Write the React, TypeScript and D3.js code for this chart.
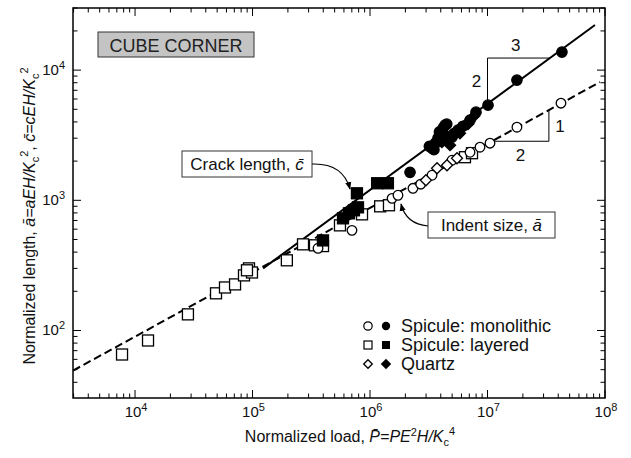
import React from 'react';
import * as d3 from 'd3';

const W = 631;
const H = 458;
const PLOT = { left: 73, right: 605, top: 8, bottom: 398 };

const xDomain = [2965, 1e8];
const yDomain = [30.3, 30000];

const xMajorTicks = [1e4, 1e5, 1e6, 1e7, 1e8];
const xTickExps = ['4', '5', '6', '7', '8'];
const yMajorTicks = [1e2, 1e3, 1e4];
const yTickExps = ['2', '3', '4'];

// Spicule monolithic – indent size (open circles)
const monoOpen: [number, number][] = [
  [3.61e5, 428], [7.02e5, 588], [1.54e6, 1035], [1.73e6, 1093], [2.32e6, 1236],
  [2.7e6, 1330], [3.37e6, 1557], [4.99e6, 2031], [7.1e6, 2339], [8.63e6, 2557],
  [1.05e7, 2746], [1.78e7, 3643], [4.22e7, 5572],
];
// Spicule monolithic – crack length (filled circles)
const monoFilled: [number, number][] = [
  [2.19e6, 1641], [3.2e6, 2600], [3.37e6, 2512], [3.5e6, 2450], [3.6e6, 2750],
  [3.79e6, 3000], [3.9e6, 3350], [4.0e6, 2850], [4.2e6, 3600], [4.35e6, 3776],
  [4.5e6, 3850], [4.4e6, 3100], [4.6e6, 2900], [4.99e6, 3053], [5.2e6, 3250],
  [5.61e6, 3456], [6.18e6, 3706], [7.1e6, 4125], [7.98e6, 4753], [1.01e7, 5380],
  [1.78e7, 8380], [4.3e7, 13770],
];
// Spicule layered – indent size (open squares)
const layOpen: [number, number][] = [
  [7.75e3, 65.4], [1.29e4, 83.8], [2.82e4, 133], [4.89e4, 193], [5.83e4, 214],
  [7.1e4, 226], [8.46e4, 265], [9.33e4, 300], [9.89e4, 279], [8.97e4, 290],
  [1.96e5, 346], [2.69e5, 459], [3.4e5, 451], [3.98e5, 445], [5.55e5, 642],
  [8.55e5, 780], [1.22e6, 899], [1.45e6, 916], [6.43e6, 2143], [7.38e6, 2300],
];
// Spicule layered – crack length (filled squares)
const layFilled: [number, number][] = [
  [3.98e5, 492], [5.89e5, 727], [6.62e5, 794], [7.3e5, 838], [7.9e5, 883],
  [7.74e5, 1132], [1.15e6, 1352], [1.42e6, 1352],
];
// Quartz – indent size (open diamonds)
const quartzOpen: [number, number][] = [
  [2.99e6, 1425], [3.72e6, 1763], [4.52e6, 1858], [5.5e6, 2105],
];
// Quartz – crack length (filled diamonds)
const quartzFilled: [number, number][] = [
  [4.09e6, 2795], [4.8e6, 2650], [5.83e6, 3275], [6.82e6, 3843], [7.67e6, 4430],
];

// Fitted lines
const crackLineX = [1.23e5, 8.22e7];
const crackLineY = [300, 22200];
const indentLineX = [2965, 9.06e7];
const indentLineY = [49.2, 8090];

// Slope triangles (x extents)
const crackTriX = [1e7, 3.4e7];
const indentTriX = [1.09e7, 3.33e7];

const legendItems = ['Spicule: monolithic', 'Spicule: layered', 'Quartz'];

const FONT = '"Liberation Sans", Arial, Helvetica, sans-serif';

function lineAt(xs: number[], ys: number[], xv: number) {
  const lx0 = Math.log10(xs[0]), lx1 = Math.log10(xs[1]);
  const ly0 = Math.log10(ys[0]), ly1 = Math.log10(ys[1]);
  const t = (Math.log10(xv) - lx0) / (lx1 - lx0);
  return Math.pow(10, ly0 + t * (ly1 - ly0));
}

function Diamond({ cx, cy, r, filled }: { cx: number; cy: number; r: number; filled: boolean }) {
  return (
    <path
      d={`M${cx},${cy - r}L${cx + r},${cy}L${cx},${cy + r}L${cx - r},${cy}Z`}
      fill={filled ? '#000' : '#fff'}
      stroke="#000"
      strokeWidth={1.3}
    />
  );
}

export default function App() {
  const x = d3.scaleLog().domain(xDomain).range([PLOT.left, PLOT.right]);
  const y = d3.scaleLog().domain(yDomain).range([PLOT.bottom, PLOT.top]);

  const isMajor = (v: number) => Math.abs(Math.log10(v) - Math.round(Math.log10(v))) < 1e-6;
  const xt = x.ticks().filter((v) => v >= xDomain[0] && v <= xDomain[1]);
  const yt = y.ticks().filter((v) => v >= yDomain[0] && v <= yDomain[1]);

  const line = d3
    .line<[number, number]>()
    .x((d) => x(d[0]))
    .y((d) => y(d[1]));

  const crackPts: [number, number][] = crackLineX.map((v, i) => [v, crackLineY[i]]);
  const indentPts: [number, number][] = indentLineX.map((v, i) => [v, indentLineY[i]]);

  const c0 = crackTriX[0], c1 = crackTriX[1];
  const cy0 = lineAt(crackLineX, crackLineY, c0);
  const cy1 = lineAt(crackLineX, crackLineY, c1);
  const crackTri = `M${x(c0)},${y(cy0)}L${x(c0)},${y(cy1)}L${x(c1)},${y(cy1)}`;
  const i0 = indentTriX[0], i1 = indentTriX[1];
  const iy0 = lineAt(indentLineX, indentLineY, i0);
  const iy1 = lineAt(indentLineX, indentLineY, i1);
  const indentTri = `M${x(i0)},${y(iy0)}L${x(i1)},${y(iy0)}L${x(i1)},${y(iy1)}`;

  const majorLen = 8;
  const minorLen = 4.5;

  return (
    <svg
      width={W}
      height={H}
      style={{ position: 'absolute', left: 0, top: 0, background: '#fff' }}
      fontFamily={FONT}
    >
      <defs>
        <marker id="ah" viewBox="0 0 10 10" refX="9" refY="5" markerWidth="7" markerHeight="7" orient="auto">
          <path d="M0,1L10,5L0,9Z" fill="#000" />
        </marker>
        <clipPath id="plotclip">
          <rect x={PLOT.left} y={PLOT.top} width={PLOT.right - PLOT.left} height={PLOT.bottom - PLOT.top} />
        </clipPath>
      </defs>

      <g stroke="#000" strokeWidth={1}>
        {xt.map((v, i) => {
          const len = isMajor(v) ? majorLen : minorLen;
          const px = x(v);
          return (
            <g key={'xt' + i}>
              <line x1={px} x2={px} y1={PLOT.bottom} y2={PLOT.bottom - len} />
              <line x1={px} x2={px} y1={PLOT.top} y2={PLOT.top + len} />
            </g>
          );
        })}
        {yt.map((v, i) => {
          const len = isMajor(v) ? majorLen : minorLen;
          const py = y(v);
          return (
            <g key={'yt' + i}>
              <line x1={PLOT.left} x2={PLOT.left + len} y1={py} y2={py} />
              <line x1={PLOT.right} x2={PLOT.right - len} y1={py} y2={py} />
            </g>
          );
        })}
      </g>

      <g fontSize={15} fill="#111">
        {xMajorTicks.map((v, i) => (
          <text key={'xl' + i} x={x(v) + 1} y={417} textAnchor="middle">
            10<tspan fontSize={11} dy={-6}>{xTickExps[i]}</tspan>
          </text>
        ))}
        {yMajorTicks.map((v, i) => (
          <text key={'yl' + i} x={65} y={y(v) + 5} textAnchor="end">
            10<tspan fontSize={11} dy={-6}>{yTickExps[i]}</tspan>
          </text>
        ))}
      </g>

      <g clipPath="url(#plotclip)" fill="none" stroke="#000">
        <path d={line(indentPts) || ''} strokeWidth={2} strokeDasharray="8,4" />
        <path d={line(crackPts) || ''} strokeWidth={2} />
        <path d={crackTri} strokeWidth={1} />
        <path d={indentTri} strokeWidth={1} />
      </g>

      <g fontSize={17} fill="#111" textAnchor="middle">
        <text x={(x(c0) + x(c1)) / 2 - 3} y={y(cy1) - 7}>3</text>
        <text x={x(c0) - 11} y={(y(cy0) + y(cy1)) / 2 + 6}>2</text>
        <text x={x(i1) + 11} y={(y(iy0) + y(iy1)) / 2 + 6}>1</text>
        <text x={(x(i0) + x(i1)) / 2} y={y(iy0) + 20}>2</text>
      </g>

      <g stroke="#000" strokeWidth={1.3}>
        {layOpen.map((d, i) => (
          <rect key={'lo' + i} x={x(d[0]) - 5.5} y={y(d[1]) - 5.5} width={11} height={11} fill="#fff" />
        ))}
        {monoOpen.map((d, i) => (
          <circle key={'mo' + i} cx={x(d[0])} cy={y(d[1])} r={4.8} fill="#fff" />
        ))}
        {quartzOpen.map((d, i) => (
          <Diamond key={'qo' + i} cx={x(d[0])} cy={y(d[1])} r={5.5} filled={false} />
        ))}
        {layFilled.map((d, i) => (
          <rect key={'lf' + i} x={x(d[0]) - 5.5} y={y(d[1]) - 5.5} width={11} height={11} fill="#000" />
        ))}
        {monoFilled.map((d, i) => (
          <circle key={'mf' + i} cx={x(d[0])} cy={y(d[1])} r={5.2} fill="#000" />
        ))}
        {quartzFilled.map((d, i) => (
          <Diamond key={'qf' + i} cx={x(d[0])} cy={y(d[1])} r={5.5} filled={true} />
        ))}
      </g>

      <rect
        x={PLOT.left}
        y={PLOT.top}
        width={PLOT.right - PLOT.left}
        height={PLOT.bottom - PLOT.top}
        fill="none"
        stroke="#000"
        strokeWidth={1.5}
      />

      <rect x={98} y={32} width={156} height={25} fill="#c4c4c4" stroke="#333" strokeWidth={1} />
      <text x={176} y={51.5} fontSize={18} textAnchor="middle" fill="#222">CUBE CORNER</text>

      <rect x={182} y={151} width={130} height={26} fill="#fff" stroke="#333" strokeWidth={1} />
      <text x={247} y={170} fontSize={17} textAnchor="middle" fill="#111">
        Crack length, <tspan fontStyle="italic">{'c\u0304'}</tspan>
      </text>
      <path d="M312,164 Q343,163 350,189" fill="none" stroke="#000" strokeWidth={1.1} markerEnd="url(#ah)" />

      <rect x={428} y={212} width={127} height={26} fill="#fff" stroke="#333" strokeWidth={1} />
      <text x={491.5} y={231} fontSize={17} textAnchor="middle" fill="#111">
        Indent size, <tspan fontStyle="italic">{'\u0101'}</tspan>
      </text>
      <path d="M428,226 Q406,224 401,204" fill="none" stroke="#000" strokeWidth={1.1} markerEnd="url(#ah)" />

      <g>
        {legendItems.map((t, i) => {
          const ry = 326 + i * 19;
          return (
            <g key={'lg' + i}>
              {i === 0 && (
                <>
                  <circle cx={368} cy={ry} r={4.2} fill="#fff" stroke="#000" strokeWidth={1.2} />
                  <circle cx={386} cy={ry} r={4.2} fill="#000" />
                </>
              )}
              {i === 1 && (
                <>
                  <rect x={364} y={ry - 4} width={8} height={8} fill="#fff" stroke="#000" strokeWidth={1.2} />
                  <rect x={382} y={ry - 4} width={8} height={8} fill="#000" />
                </>
              )}
              {i === 2 && (
                <>
                  <Diamond cx={368} cy={ry} r={4.3} filled={false} />
                  <Diamond cx={386} cy={ry} r={4.3} filled={true} />
                </>
              )}
              <text x={401} y={ry + 6} fontSize={18} fill="#111">{t}</text>
            </g>
          );
        })}
      </g>

      <text x={350} y={442} fontSize={16} textAnchor="middle" fill="#111">
        Normalized load, <tspan fontStyle="italic">{'P\u0304=PE'}</tspan>
        <tspan fontSize={11} dy={-6}>2</tspan>
        <tspan fontStyle="italic" dy={6}>H/K</tspan>
        <tspan fontSize={11} dy={4}>c</tspan>
        <tspan fontSize={11} dy={-11}>4</tspan>
      </text>
      <text transform="translate(35,216) rotate(-90)" fontSize={16} textAnchor="middle" fill="#111">
        Normalized length, <tspan fontStyle="italic">{'\u0101=aEH/K'}</tspan>
        <tspan fontSize={11} dy={4}>c</tspan>
        <tspan fontSize={11} dy={-11}>2</tspan>
        <tspan dy={7}>, </tspan>
        <tspan fontStyle="italic">{'c\u0304=cEH/K'}</tspan>
        <tspan fontSize={11} dy={4}>c</tspan>
        <tspan fontSize={11} dy={-11}>2</tspan>
      </text>
    </svg>
  );
}
